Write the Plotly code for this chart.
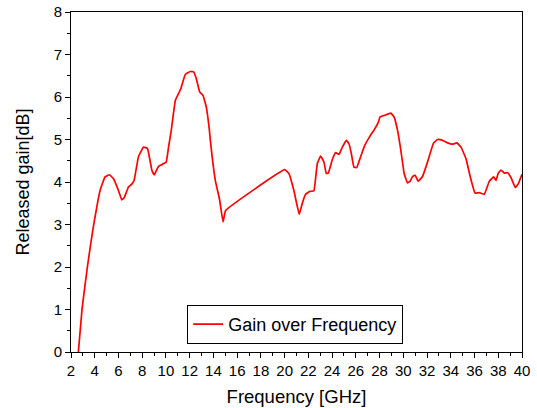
import plotly.graph_objects as go

# Realized gain of the antenna across the band
freq_ghz = [2.62, 2.93, 3.38, 3.69, 3.88, 4.45, 4.87, 5.24, 5.57, 6.0, 6.28, 6.48,
            6.84, 7.12, 7.32, 7.68, 8.11, 8.44, 8.82, 9.01, 9.37, 9.66, 10.02, 10.22,
            10.45, 10.79, 11.06, 11.26, 11.63, 12.05, 12.33, 12.56, 12.84, 13.12, 13.40,
            13.66, 13.74, 14.16, 14.53, 14.81, 15.03, 20.0, 20.36, 20.78, 21.23, 21.48,
            21.76, 22.13, 22.46, 22.75, 23.03, 23.31, 23.51, 23.68, 24.02, 24.30, 24.58,
            24.86, 25.2, 25.42, 25.62, 25.84, 26.07, 26.41, 26.75, 27.19, 27.53, 27.90,
            28.04, 28.44, 28.94, 29.22, 29.51, 29.79, 30.07, 30.35, 30.58, 30.78, 31.0,
            31.25, 31.62, 32.04, 32.55, 32.89, 33.31, 33.73, 34.15, 34.52, 34.86, 35.28,
            35.64, 36.04, 36.40, 36.82, 37.25, 37.61, 37.81, 38.0, 38.23, 38.51, 38.80,
            39.08, 39.44, 39.69, 40.0]
gain_db = [0.0, 1.01, 2.0, 2.6, 2.94, 3.80, 4.12, 4.17, 4.08, 3.80, 3.58, 3.63,
           3.88, 3.95, 4.04, 4.59, 4.82, 4.79, 4.27, 4.17, 4.37, 4.41, 4.47, 4.82,
           5.22, 5.92, 6.08, 6.20, 6.53, 6.60, 6.59, 6.43, 6.12, 6.04, 5.76,
           5.22, 4.98, 4.04, 3.57, 3.06, 3.33, 4.29, 4.20, 3.80, 3.24, 3.49,
           3.71, 3.78, 3.79, 4.43, 4.61, 4.47, 4.20, 4.21, 4.53, 4.69, 4.65,
           4.82, 4.98, 4.90, 4.67, 4.35, 4.34, 4.60, 4.86, 5.08, 5.22, 5.41,
           5.53, 5.57, 5.62, 5.53, 5.22, 4.75, 4.20, 3.98, 4.02, 4.13, 4.16,
           4.02, 4.13, 4.47, 4.92, 5.00, 4.98, 4.92, 4.89, 4.92, 4.82, 4.55,
           4.12, 3.74, 3.75, 3.71, 4.02, 4.12, 4.04, 4.21, 4.28, 4.21, 4.22,
           4.10, 3.87, 3.96, 4.18]

x_ticks = list(range(2, 41, 2))
y_ticks = list(range(0, 9))

font_family = "Liberation Sans, Arial, sans-serif"

fig = go.Figure()
fig.add_trace(go.Scatter(
    x=freq_ghz, y=gain_db, mode="lines",
    name="Gain over Frequency",
    line=dict(color="#ff0000", width=1.7, shape="spline", smoothing=0.3),
))

axis_common = dict(
    showgrid=False, zeroline=False, automargin=False,
    showline=True, linecolor="black", linewidth=1, mirror=True,
    ticks="outside", ticklen=5, tickwidth=1, tickcolor="black",
    tickfont=dict(family=font_family, size=15, color="black"),
)

fig.update_xaxes(
    range=[2, 40], tickvals=x_ticks,
    minor=dict(ticks="outside", ticklen=3, tickcolor="black", dtick=1, tick0=2),
    title=dict(text="Frequency [GHz]", font=dict(family=font_family, size=18.5, color="black"),
               standoff=12),
    **axis_common,
)
fig.update_yaxes(
    range=[0, 8], tickvals=y_ticks,
    minor=dict(ticks="outside", ticklen=3, tickcolor="black", dtick=0.5, tick0=0),
    title=dict(text="Released gain[dB]", font=dict(family=font_family, size=18, color="black"),
               standoff=19),
    **axis_common,
)

fig.update_layout(
    width=537, height=408,
    margin=dict(l=71, r=15, t=12, b=56),
    paper_bgcolor="white", plot_bgcolor="white",
    showlegend=True,
    legend=dict(
        x=0.497, y=0.081, xanchor="center", yanchor="middle",
        bordercolor="black", borderwidth=1, bgcolor="white",
        font=dict(family=font_family, size=18, color="black"),
    ),
)

fig.write_html("out.html")
